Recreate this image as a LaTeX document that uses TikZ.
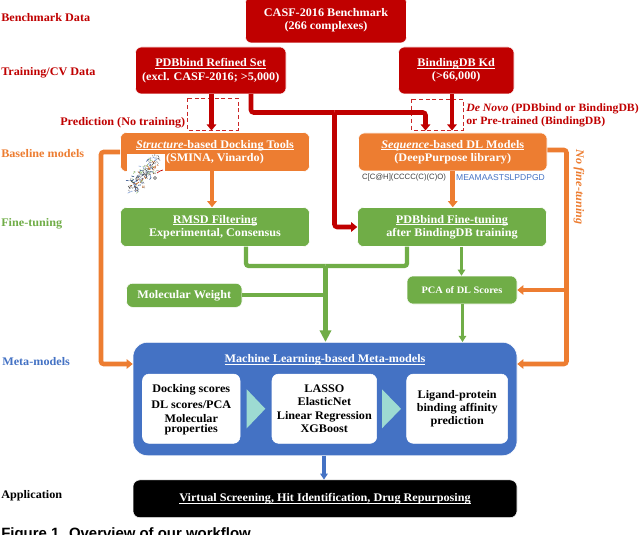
\documentclass[tikz,border=0pt]{standalone}
\usepackage{fontspec}
\setmainfont[FakeStretch=1.05]{Liberation Serif}
\setsansfont{Liberation Sans}
\usetikzlibrary{arrows.meta}
\definecolor{cred}{RGB}{192,0,0}
\definecolor{corange}{RGB}{237,125,49}
\definecolor{cgreen}{RGB}{112,173,71}
\definecolor{cblue}{RGB}{68,114,196}
\definecolor{cteal}{RGB}{157,219,210}
\newcommand{\fs}{\fontsize{8.7}{10}\selectfont}
\newcommand{\ubar}[1]{\setbox0=\hbox{#1}\rlap{\raisebox{-1.3pt}{\rule{\wd0}{0.45pt}}}\box0}
\tikzset{
  x=0.75pt,y=-0.75pt,
  boxbase/.style={rounded corners=4.5pt,align=center,inner sep=0pt,font=\fs\bfseries,text=white,draw=white,line width=0.4pt},
  redbox/.style={boxbase,fill=cred},
  orangebox/.style={boxbase,fill=corange},
  greenbox/.style={boxbase,fill=cgreen},
  bluebox/.style={boxbase,fill=cblue,rounded corners=11pt},
  blackbox/.style={boxbase,fill=black,rounded corners=5pt},
  whitebox/.style={boxbase,fill=white,text=black,rounded corners=5pt},
  sidelabel/.style={anchor=west,inner sep=0pt,font=\fs\bfseries},
  flow/.style={line width=3.4pt,-{Triangle[length=4.5pt,width=7pt]},rounded corners=2pt},
  plain/.style={line width=3.2pt,rounded corners=2pt},
  bigflow/.style={line width=3.2pt,-{Triangle[length=8.8pt,width=8.4pt]}},
  thinflow/.style={line width=2.6pt,-{Triangle[length=4.5pt,width=5.5pt]},rounded corners=2pt},
  dashbox/.style={draw=cred!85,densely dashed,line width=0.6pt,fill=none},
}
\begin{document}
\begin{tikzpicture}
\path[use as bounding box,clip] (0,0) rectangle (640,535);
\fill[white] (0,0) rectangle (640,535);

% boxes
\node[redbox,minimum width=161*0.75pt,minimum height=46*0.75pt] (casf) at (326,20) {CASF-2016 Benchmark\\(266 complexes)};
\node[redbox,minimum width=150.5*0.75pt,minimum height=47*0.75pt] (pdb) at (210.75,70.5) {\ubar{PDBbind Refined Set}\\(excl. CASF-2016; >5,000)};
\node[redbox,minimum width=115.5*0.75pt,minimum height=47*0.75pt] (bdb) at (456.25,70.5) {\ubar{BindingDB Kd}\\(>66,000)};
\node[orangebox,minimum width=189*0.75pt,minimum height=39*0.75pt] (dock) at (215,152) {\ubar{\textit{Structure}-based Docking Tools}\\(SMINA, Vinardo)};
\node[orangebox,minimum width=188.5*0.75pt,minimum height=38*0.75pt] (seq) at (452.75,152) {\ubar{\textit{Sequence}-based DL Models}\\(DeepPurpose library)};
\node[greenbox,minimum width=189*0.75pt,minimum height=39*0.75pt] (rmsd) at (215,227) {\ubar{RMSD Filtering}\\Experimental, Consensus};
\node[greenbox,minimum width=189*0.75pt,minimum height=39*0.75pt] (ft) at (452,227) {\ubar{PDBbind Fine-tuning}\\after BindingDB training};
\node[greenbox,minimum width=115.5*0.75pt,minimum height=24*0.75pt] (mw) at (184.25,295.3) {Molecular Weight};
\node[greenbox,minimum width=110*0.75pt,minimum height=28*0.75pt,font=\fontsize{7.4}{9}\selectfont\bfseries] (pca) at (462,290) {PCA of DL Scores};
\node[bluebox,minimum width=384*0.75pt,minimum height=113.5*0.75pt] (meta) at (325,399) {};
\node[blackbox,minimum width=384*0.75pt,minimum height=37.7*0.75pt] (app) at (325,498.8) {\ubar{Virtual Screening, Hit Identification, Drug Repurposing}};
\node[font=\fs\bfseries,text=white,inner sep=0pt] (metat) at (325,360) {\ubar{Machine Learning-based Meta-models}};
\node[whitebox,minimum width=97.5*0.75pt,minimum height=69.3*0.75pt] (w1) at (191.25,408.7) {};
\node[font=\fs\bfseries,inner sep=0pt] (w1a) at (191.25,389.5) {Docking scores};
\node[font=\fs\bfseries,inner sep=0pt] (w1b) at (191.25,404.5) {DL scores/PCA};
\node[font=\fontsize{8.7}{7.2}\selectfont\bfseries,inner sep=0pt,align=center] (w1c) at (191.25,425) {Molecular\\properties};
\node[whitebox,minimum width=104.7*0.75pt,minimum height=69.3*0.75pt] (w2) at (324.35,408.7) {LASSO\\ElasticNet\\Linear Regression\\XGBoost};
\node[whitebox,minimum width=101*0.75pt,minimum height=69.3*0.75pt] (w3) at (457.2,408.7) {Ligand-protein\\binding affinity\\prediction};
\fill[cteal] (246.7,389.3) -- (265.3,408.8) -- (246.7,428.3) -- cycle;
\fill[cteal] (382,389.3) -- (401,408.8) -- (382,428.3) -- cycle;

% dashed boxes
\draw[dashbox] (187,98.5) rectangle (238,130);
\draw[dashbox] (411.7,99) rectangle (463,130);

% red connectors
\coordinate (pdbs) at (251,94);
\coordinate (rj) at (334.5,112.5);
\coordinate (dashl) at (425.5,130.5);
\draw[plain,cred,line width=3.4pt] (pdbs) |- (rj);
\draw[flow,cred] (rj) -| (dashl);
\draw[flow,cred] (rj) |- (ft.west);
\draw[flow,cred] (pdb.south -| 211.5,0) -- (211.5,130.5);
\draw[flow,cred] (bdb.south -| 452,0) -- (452,130.5);

% orange connectors
\draw[flow,corange] (dock.west) -| (101,364) -- (meta.west |- 0,364);
\draw[flow,corange] (212,171.5) -- (rmsd.north -| 212,0);
\draw[flow,corange] (seq.south) -- (ft.north -| seq.south);
\draw[flow,corange] (seq.east |- 0,150) -| (566.5,364) -- (meta.east |- 0,364);
\draw[flow,corange] (566.5,290) -- (pca.east);

% green connectors
\coordinate (gj) at (325.5,266);
\draw[plain,cgreen] (246,246.5) |- (gj);
\draw[plain,cgreen] (407,246.5) |- (gj);
\draw[plain,cgreen] (mw.east) -- (325.5,295.3);
\draw[bigflow,cgreen] (gj) -- (meta.north -| gj);
\draw[thinflow,cgreen] (461.5,246.5) -- (pca.north -| 461.5,0);
\draw[thinflow,cgreen] (462.5,304) -- (meta.north -| 462.5,0);

% blue connector
\draw[thinflow,cblue] (324,455.7) -- (app.north -| 324,0);

% side labels
\node[sidelabel,text=cred] (l1) at (1,18) {Benchmark Data};
\node[sidelabel,text=cred] (l2) at (1,73) {Training/CV Data};
\node[sidelabel,text=cred] (l3) at (60,123) {Prediction (No training)};
\node[sidelabel,text=corange] (l4) at (1,153.5) {Baseline models};
\node[sidelabel,text=cgreen] (l5) at (1,224) {Fine-tuning};
\node[sidelabel,text=cblue] (l6) at (2,362) {Meta-models};
\node[sidelabel,text=black] (l7) at (1,496) {Application};
\node[sidelabel,text=cred,align=left,font=\fontsize{8.4}{10}\selectfont\bfseries] (l8) at (466,115.5) {\textit{De Novo} (PDBbind or BindingDB)\\or Pre-trained (BindingDB)};
\node[sidelabel,text=corange,rotate=-90,anchor=center] (l9) at (579,187) {\textit{No fine-tuning}};

% sequence labels
\node[inner sep=0pt,font=\sffamily\fontsize{5.8}{7}\selectfont,text=black!75] (smi) at (404,178) {C[C@H](CCCC(C)(C)O)};
\node[inner sep=0pt,font=\sffamily\fontsize{6.4}{7}\selectfont,text=cblue] (prot) at (500.5,178) {MEAMAASTSLPDPGD};

% molecule picture
\fill[white] (127,154) rectangle (165,192);
\pgfmathsetseed{7}
\foreach \c in {gray!70,cblue!70,corange!80!black,cgreen!70,cblue!70!black,black!70,gray!60}{
  \foreach \i in {1,...,26}{
    \pgfmathsetmacro{\t}{rnd}
    \pgfmathsetmacro{\xa}{131+\t*26+rnd*9-4.5}
    \pgfmathsetmacro{\ya}{188-\t*26+rnd*16-8}
    \pgfmathsetmacro{\xb}{\xa+rnd*6-3}
    \pgfmathsetmacro{\yb}{\ya+rnd*6-3}
    \draw[\c,line width=0.45pt] (\xa,\ya) -- (\xb,\yb);
  }
}
\draw[cred,line width=0.5pt] (157,173) -- (160,171) -- (163,170);
\draw[black!70,line width=0.4pt] (155,178) circle (1.4);

% caption
\node[anchor=west,inner sep=0pt,font=\sffamily\bfseries\fontsize{11.2}{13}\selectfont] (cap) at (1,535) {Figure 1. Overview of our workflow};
\end{tikzpicture}
\end{document}
